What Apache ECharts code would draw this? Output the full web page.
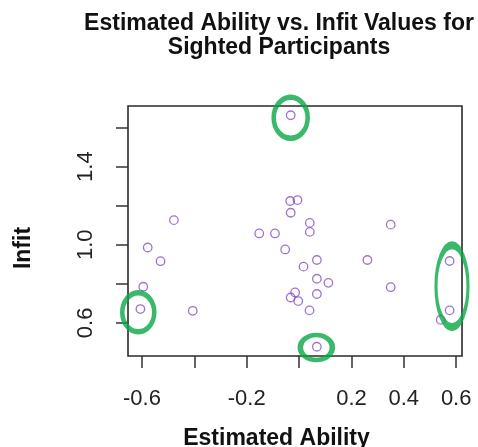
<!DOCTYPE html>
<html>
<head>
<meta charset="utf-8">
<script src="https://cdn.jsdelivr.net/npm/echarts@6/dist/echarts.min.js"></script>
<style>
  html, body { margin: 0; padding: 0; background: #fff; }
  #chart { width: 478px; height: 447px; }
</style>
</head>
<body>
<div id="chart"></div>
<script>
// Estimated person ability (logits) and infit mean-square, one entry per participant
const ability = [
  -0.032, -0.034, -0.006, -0.032, -0.478, -0.152, -0.092, -0.578,
  -0.053, -0.529, -0.595, -0.606, -0.406,  0.041,  0.041,  0.068,
   0.017,  0.261,  0.350,  0.068,  0.112,  0.350, -0.015, -0.032,
  -0.003,  0.068,  0.040,  0.068,  0.575,  0.575,  0.541
];
const infit = [
  1.663, 1.224, 1.229, 1.164, 1.126, 1.058, 1.058, 0.986,
  0.976, 0.916, 0.785, 0.671, 0.662, 1.112, 1.066, 0.922,
  0.888, 0.922, 1.103, 0.826, 0.805, 0.783, 0.756, 0.730,
  0.712, 0.748, 0.664, 0.478, 0.917, 0.664, 0.616
];

// Participants flagged as misfitting (centre of each highlight ring)
const flaggedAbility = [-0.032, -0.614, 0.066, 0.584];
const flaggedInfit   = [ 1.650,  0.654, 0.474, 0.788];

// Axis ticks and the labels that get printed
const xTicks  = [-0.6, -0.4, -0.2, 0.0, 0.2, 0.4, 0.6];
const xLabels = [-0.6, -0.2, 0.2, 0.4, 0.6];
const yTicks  = [0.6, 0.8, 1.0, 1.2, 1.4, 1.6];
const yLabels = [0.6, 1.0, 1.4];

// Base-graphics style range: data extent padded by 4% on each side
function paddedRange(values) {
  const lo = Math.min(...values), hi = Math.max(...values);
  const pad = (hi - lo) * 0.04;
  return [lo - pad, hi + pad];
}
const xRange = paddedRange(ability);
const yRange = paddedRange(infit);

const points = ability.map((a, i) => [a, infit[i]]);
const ringSizes = [[34, 41], [32, 39], [32, 25], [32, 82]];
const rings = flaggedAbility.map((a, i) => ({
  value: [a, flaggedInfit[i]],
  symbolSize: ringSizes[i]
}));

const FONT = 'Liberation Sans, Arial, sans-serif';
const INK = '#222';

const chart = echarts.init(document.getElementById('chart'), null, { renderer: 'canvas' });
chart.setOption({
  animation: false,
  backgroundColor: '#fff',
  title: {
    text: 'Estimated Ability vs. Infit Values for\nSighted Participants',
    left: 274,
    textAlign: 'center',
    top: 7,
    textStyle: {
      fontFamily: FONT, fontWeight: 'bold', fontSize: 23, lineHeight: 23.5, color: '#111'
    }
  },
  grid: {
    left: 128, right: 16, top: 106, bottom: 91,
    outerBoundsMode: 'none',
    containLabel: false,
    show: true, borderColor: '#2a2a2a', borderWidth: 1.6, backgroundColor: 'transparent'
  },
  xAxis: {
    type: 'value',
    min: xRange[0], max: xRange[1],
    splitLine: { show: false },
    axisLine: { show: false, onZero: false },
    axisTick: {
      show: true, inside: false, length: 12, customValues: xTicks,
      lineStyle: { color: '#333', width: 1.5 }
    },
    axisLabel: {
      customValues: xLabels, margin: 32,
      fontFamily: FONT, fontSize: 22, color: INK,
      formatter: v => v.toFixed(1)
    },
    name: 'Estimated Ability',
    nameLocation: 'middle',
    nameGap: 71,
    nameTextStyle: {
      fontFamily: FONT, fontWeight: 'bold', fontSize: 23, color: '#111',
      padding: [0, 37, 0, 0]
    }
  },
  yAxis: {
    type: 'value',
    min: yRange[0], max: yRange[1],
    splitLine: { show: false },
    axisLine: { show: false, onZero: false },
    axisTick: {
      show: true, inside: false, length: 12, customValues: yTicks,
      lineStyle: { color: '#333', width: 1.5 }
    },
    axisLabel: {
      customValues: yLabels, margin: 31, rotate: 90,
      fontFamily: FONT, fontSize: 22, color: INK,
      formatter: v => v.toFixed(1)
    },
    name: 'Infit',
    nameLocation: 'middle',
    nameGap: 93,
    nameTextStyle: {
      fontFamily: FONT, fontWeight: 'bold', fontSize: 23, color: '#111',
      padding: [0, 34, 0, 0]
    }
  },
  series: [
    {
      name: 'Participants',
      type: 'scatter',
      data: points,
      symbol: 'circle',
      symbolSize: 8.5,
      itemStyle: { color: 'rgba(0,0,0,0)', borderColor: '#8650c4', borderWidth: 1.3 },
      emphasis: { disabled: true },
      z: 3
    },
    {
      name: 'Flagged',
      type: 'scatter',
      data: rings,
      symbol: 'circle',
      clip: false,
      itemStyle: { color: 'rgba(0,0,0,0)', borderColor: '#0aa845', borderWidth: 5 },
      emphasis: { disabled: true },
      z: 4
    }
  ]
});
</script>
</body>
</html>
